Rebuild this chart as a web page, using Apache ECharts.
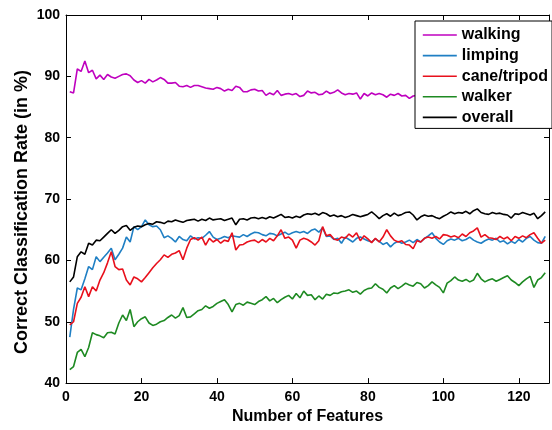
<!DOCTYPE html>
<html><head><meta charset="utf-8">
<script src="https://cdn.jsdelivr.net/npm/echarts@6/dist/echarts.min.js"></script>
<style>html,body{margin:0;padding:0;background:#fff}#c{width:552px;height:430px}</style>
</head><body><div id="c"></div>
<script>
const seriesNames = ['walking','limping','cane/tripod','walker','overall'];
const xTicks = [0,20,40,60,80,100,120];
const yTicks = [40,50,60,70,80,90,100];
const walking = [87.5,87.3,91.2,90.8,92.5,90.6,91.0,89.6,90.2,89.5,90.3,89.9,89.7,90.0,90.3,90.4,90.1,89.4,89.0,89.3,88.9,89.5,89.1,89.4,89.8,89.5,88.9,88.9,89.0,88.4,88.3,88.5,88.2,88.5,88.5,88.3,88.1,88.0,87.9,88.2,88.0,87.6,87.9,87.7,88.4,88.2,87.5,87.5,87.8,87.9,87.6,87.7,86.9,87.3,87.0,87.7,86.9,87.1,87.2,87.0,87.2,86.7,86.9,87.6,87.3,87.4,87.0,87.1,87.6,87.2,87.4,87.8,87.3,87.0,87.2,87.1,87.3,86.3,87.2,86.8,87.3,87.0,87.2,87.0,86.6,87.1,86.9,87.2,86.8,86.9,86.4,86.8,86.9,86.6,87.0,86.8,86.7,87.1,86.8,86.6,86.9,87.0,86.7,86.8,86.5,86.9,86.7,87.0,86.8,86.6,86.9,86.7,86.8,86.5,86.9,86.7,86.8,86.6,86.9,86.7,86.8,86.5,86.7,86.9,86.6,86.8,86.7];
const limping = [47.5,52.0,55.5,55.2,57.0,59.0,58.5,60.6,59.8,60.5,61.2,62.0,60.1,61.0,62.0,63.8,63.0,65.5,65.0,65.5,66.6,65.8,65.5,65.6,65.0,63.7,64.0,63.6,63.0,63.9,63.4,63.2,64.0,63.5,63.7,63.6,64.1,64.7,63.8,63.4,63.6,63.9,63.7,64.0,63.9,63.8,64.2,63.9,64.3,64.6,64.5,64.2,64.0,64.4,64.3,64.0,64.3,64.6,64.2,64.5,64.7,64.5,64.7,64.4,64.9,65.1,64.6,65.3,63.9,64.0,63.4,63.6,62.8,63.8,63.4,63.0,63.6,63.8,63.5,63.2,63.0,63.5,63.1,62.6,62.9,62.2,62.8,63.1,62.8,63.0,63.3,62.9,63.4,63.0,63.6,64.0,64.5,63.6,63.0,62.6,63.2,63.5,63.3,63.6,63.2,63.4,63.8,63.3,63.0,62.8,63.2,63.5,63.3,63.6,63.0,63.2,62.7,63.1,62.8,63.4,63.0,63.6,63.9,63.3,62.9,62.8,63.9];
const cane = [49.5,50.0,53.0,54.0,55.7,54.1,55.7,55.0,56.8,58.0,59.6,61.4,59.0,58.5,58.6,56.8,56.0,57.3,57.0,56.5,57.2,58.0,58.8,59.5,60.1,60.9,60.5,61.0,61.2,61.6,60.1,62.0,63.4,63.7,63.3,63.8,62.5,63.6,63.0,63.4,62.8,63.3,63.1,64.5,61.7,62.5,62.6,63.0,63.2,63.3,62.9,63.4,63.0,63.6,63.2,64.0,65.0,63.6,63.8,63.3,62.0,63.3,63.6,63.4,63.0,62.5,63.2,65.5,64.0,64.2,63.5,63.3,63.8,63.6,64.3,63.8,64.5,63.2,64.0,63.5,62.9,63.6,63.0,63.8,65.0,64.0,63.3,63.0,63.2,62.6,62.5,61.9,63.2,63.0,63.6,63.8,63.6,63.9,63.5,64.2,64.1,63.8,64.0,63.7,64.3,63.9,64.5,64.8,65.3,63.8,64.2,63.7,63.6,63.4,63.9,63.5,63.8,63.2,63.9,63.6,64.0,63.7,64.2,64.5,63.6,62.8,63.3];
const walker = [42.2,42.7,45.0,45.5,44.3,45.8,48.2,47.9,47.7,47.4,48.2,48.3,48.0,49.8,51.1,50.2,52.0,49.2,50.0,50.5,50.8,49.8,49.4,49.6,50.0,50.2,50.7,51.1,50.6,51.0,52.3,50.7,50.8,51.3,51.8,52.0,52.6,52.2,52.5,53.0,53.3,53.6,52.8,51.6,52.8,53.0,52.7,53.2,53.0,52.8,53.3,53.6,54.1,53.4,53.8,53.1,53.6,54.0,54.3,53.7,54.6,53.9,55.0,54.3,54.4,53.6,54.2,53.7,54.5,54.3,54.7,54.6,54.9,55.0,55.2,54.8,55.0,54.5,55.1,55.4,55.5,56.2,55.6,55.3,54.7,55.5,55.9,55.4,55.8,56.3,56.0,55.8,56.4,56.2,55.5,55.9,56.5,56.0,55.6,54.7,56.3,56.7,57.3,56.8,56.6,56.9,56.5,56.8,57.9,57.0,56.5,56.8,57.0,56.6,56.9,57.2,57.5,56.8,56.4,55.9,56.5,57.0,57.4,55.6,56.8,57.2,58.0];
const overall = [56.5,57.3,60.6,61.4,61.0,62.8,62.5,63.3,63.2,63.8,64.4,65.0,64.4,64.9,65.5,65.7,64.9,65.4,65.6,65.5,65.8,66.0,65.9,66.3,66.2,66.0,66.4,66.3,66.6,66.4,66.2,66.5,66.6,66.7,66.4,66.7,66.5,66.9,66.6,66.7,66.8,66.5,66.7,66.9,65.8,66.7,66.8,66.6,66.9,67.0,66.8,67.0,66.8,67.1,66.9,67.2,67.5,67.0,67.1,66.9,67.2,67.0,67.4,67.6,67.5,67.7,67.4,67.8,67.6,67.2,67.4,67.1,67.3,67.0,67.2,67.5,67.3,67.1,67.3,67.5,67.9,67.4,66.8,67.3,67.6,67.2,67.7,67.3,67.5,67.8,67.9,67.4,66.6,67.1,67.4,67.2,67.3,67.0,66.8,67.2,67.5,67.9,67.6,67.8,67.7,68.0,67.6,68.1,68.4,67.8,67.6,67.5,67.8,67.6,67.7,67.5,67.4,66.9,67.6,67.5,67.8,67.6,67.4,67.7,66.8,67.3,67.9];

const colors = ['#bf00bf','#1f7fc4','#e8101c','#1e8a22','#000000'];
const dataSets = [walking, limping, cane, walker, overall];
const font = 'Arial, "Liberation Sans", sans-serif';

const chart = echarts.init(document.getElementById('c'), null, {renderer:'canvas'});
const series = dataSets.map((arr, i) => ({
  name: seriesNames[i], type: 'line', xAxisIndex: 0, yAxisIndex: 0,
  data: arr.map((v, j) => [j + 1, v]),
  showSymbol: false, symbol: 'none', animation: false,
  lineStyle: {color: colors[i], width: 1.6}, itemStyle: {color: colors[i]}
}));
const axisCommon = {
  axisLine: {show: true, onZero: false, lineStyle: {color: '#000', width: 1}},
  axisTick: {show: true, inside: true, length: 5, lineStyle: {color: '#000'}},
  splitLine: {show: false}
};
chart.setOption({
  animation: false,
  backgroundColor: '#fff',
  grid: {left: 66, right: 3, top: 15, bottom: 46, containLabel: false},
  xAxis: [
    Object.assign({type: 'value', min: 0, max: 128, interval: 20, position: 'bottom',
      name: 'Number of Features', nameLocation: 'middle', nameGap: 21,
      nameTextStyle: {fontFamily: font, fontWeight: 'bold', fontSize: 16, color: '#000'},
      axisLabel: {fontFamily: font, fontWeight: 'bold', fontSize: 14, color: '#000', margin: 7, showMaxLabel: false,
        formatter: v => xTicks.indexOf(v) >= 0 ? String(v) : ''}}, axisCommon),
    Object.assign({type: 'value', min: 0, max: 128, interval: 20, position: 'top',
      axisLabel: {show: false}}, axisCommon)
  ],
  yAxis: [
    Object.assign({type: 'value', min: 40, max: 100, interval: 10, position: 'left',
      axisLabel: {fontFamily: font, fontWeight: 'bold', fontSize: 14, color: '#000', margin: 6,
        formatter: v => yTicks.indexOf(v) >= 0 ? String(v) : ''}}, axisCommon),
    Object.assign({type: 'value', min: 40, max: 100, interval: 10, position: 'right',
      axisLabel: {show: false}}, axisCommon)
  ],
  graphic: [{
    type: 'text', x: 22, y: 212, rotation: Math.PI / 2,
    style: {text: 'Correct Classification Rate (in %)', align: 'center', verticalAlign: 'middle',
      font: 'bold 18px Arial, "Liberation Sans", sans-serif', fill: '#000'}
  }],
  legend: {
    orient: 'vertical', left: 415, top: 21,
    data: seriesNames,
    itemWidth: 34, itemHeight: 14, itemGap: 4.6,
    padding: [6, 4, 3, 7],
    backgroundColor: '#fff', borderColor: '#000', borderWidth: 1, borderRadius: 0,
    itemStyle: {opacity: 0},
    lineStyle: {width: 1.6},
    textStyle: {fontFamily: font, fontWeight: 'bold', fontSize: 16, color: '#000'},
    selectedMode: false
  },
  series: series
});
</script></body></html>
